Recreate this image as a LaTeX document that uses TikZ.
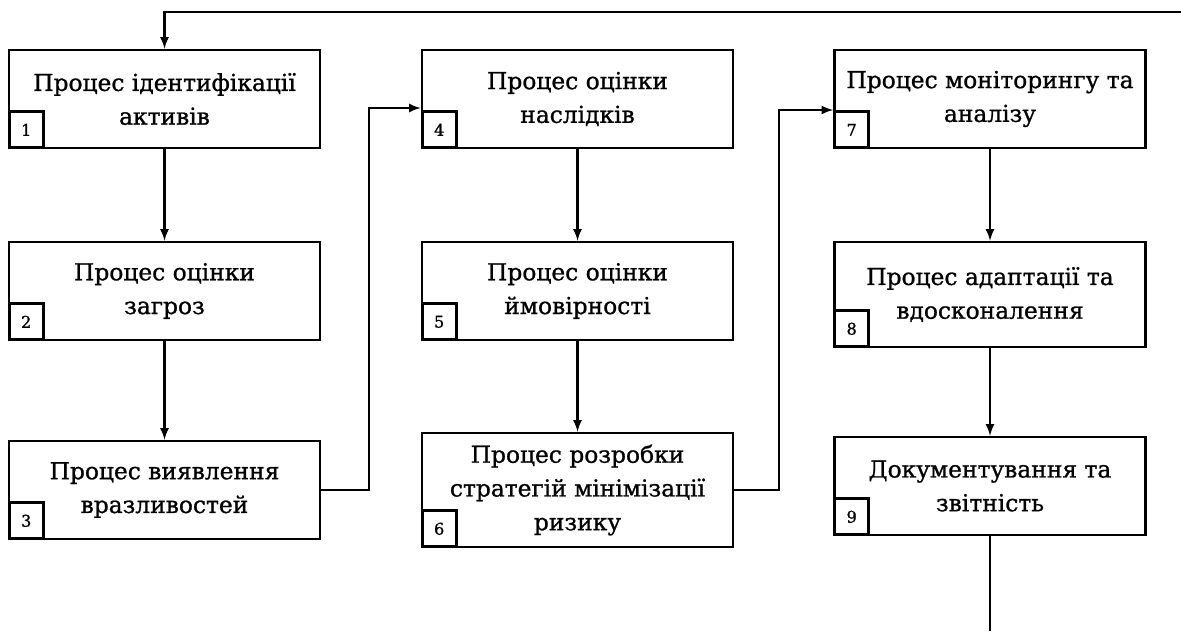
\documentclass[tikz,border=0pt]{standalone}
\usepackage{fontspec}
\setmainfont[FakeBold=1]{DejaVu Serif}
\usepackage{tikz}
\usetikzlibrary{
  calc,%
  positioning
}
\tikzset{>=latex}
\tikzset{procbox/.style={draw, line width=1.8pt, minimum width=7.775cm,
    minimum height=2.45cm, align=center, inner sep=0pt,
    font=\fontsize{16.6}{24}\selectfont}}
\tikzset{numbox/.style={draw, line width=2.1pt, minimum width=0.85cm,
    minimum height=0.9cm, inner sep=0pt, anchor=south west,
    font=\fontsize{11.5}{13}\selectfont}}
\tikzset{link/.style={->, line width=1.8pt}}

\begin{document}
\begin{tikzpicture}[x=0.025cm, y=-0.025cm]
          \useasboundingbox (0,0) rectangle (1181,631);
          % first column
          \node[procbox] (b1) at (164.5,99) {Процес ідентифікації\\активів};
          \node[procbox] (b2) at (164.5,291) {Процес оцінки\\загроз};
          \node[procbox] (b3) at (164.5,490) {Процес виявлення\\вразливостей};
          % second column
          \node[procbox] (b4) at (577.5,99) {Процес оцінки\\наслідків};
          \node[procbox] (b5) at (577.5,291) {Процес оцінки\\ймовірності};
          \node[procbox, minimum height=2.85cm] (b6) at (577.5,490)
            {Процес розробки\\стратегій мінімізації\\ризику};
          % third column
          \node[procbox] (b7) at (990,99) {Процес моніторингу та\\аналізу};
          \node[procbox, minimum height=2.625cm] (b8) at (990,294.5)
            {Процес адаптації та\\вдосконалення};
          \node[procbox] (b9) at (990,486) {Документування та\\звітність};
          % numbers in the corners
          \foreach \i in {1,...,9}
            \node[numbox] (n\i) at (b\i.south west) {\i};
          % bends and loose ends
          \coordinate (k3) at (369,108);
          \coordinate (k6) at (779,110);
          \coordinate (loopin) at (1181,12);
          \coordinate (loopout) at (990,631);
          \draw[link] (b1) -- (b2);
          \draw[link] (b2) -- (b3);
          \draw[link] (b4) -- (b5);
          \draw[link] (b5) -- (b6);
          \draw[link] (b7) -- (b8);
          \draw[link] (b8) -- (b9);
          \draw[link] (b3.east) -| (k3) -- (k3 -| b4.west);
          \draw[link] (b6.east) -| (k6) -- (k6 -| b7.west);
          \draw[link] (loopin) -| (b1.north);
          \draw[line width=1.8pt] (b9.south) -- (loopout);
        \end{tikzpicture}
\end{document}
